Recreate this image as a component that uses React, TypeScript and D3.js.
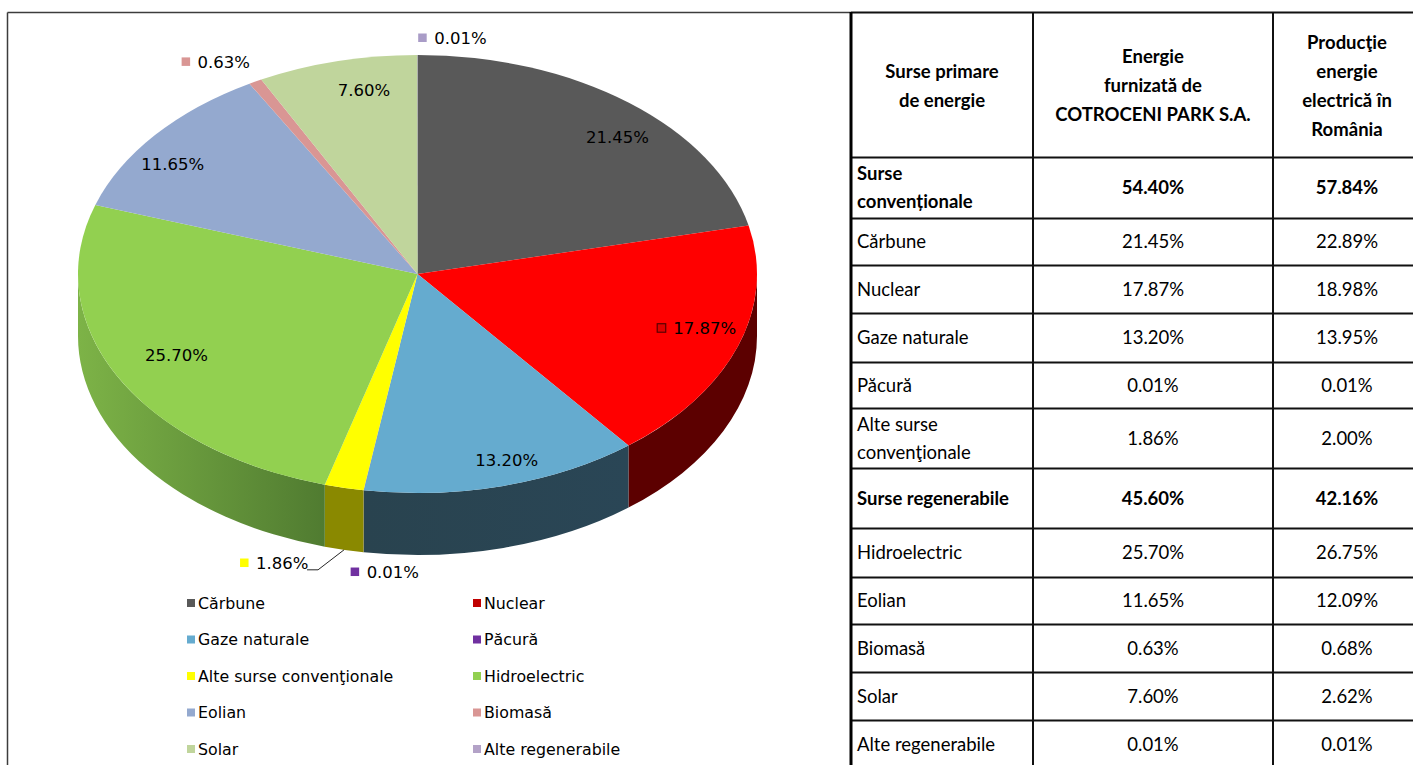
import React from 'react';
import * as d3 from 'd3';

// ---------- data ----------
const categories = [
  'Cărbune', 'Nuclear', 'Gaze naturale', 'Păcură', 'Alte surse convenţionale',
  'Hidroelectric', 'Eolian', 'Biomasă', 'Solar', 'Alte regenerabile',
];
const cotroceniShare = [21.45, 17.87, 13.2, 0.01, 1.86, 25.7, 11.65, 0.63, 7.6, 0.01];
const romaniaShare = [22.89, 18.98, 13.95, 0.01, 2.0, 26.75, 12.09, 0.68, 2.62, 0.01];
const conventionalTotals = [54.4, 57.84];
const renewableTotals = [45.6, 42.16];
const tableHeaders = [
  ['Surse primare', 'de energie'],
  ['Energie', 'furnizată de', 'COTROCENI PARK S.A.'],
  ['Producţie', 'energie', 'electrică în', 'România'],
];
const tableRowLabels = [
  ['Surse', 'convenționale'], ['Cărbune'], ['Nuclear'], ['Gaze naturale'], ['Păcură'],
  ['Alte surse', 'convenţionale'], ['Surse regenerabile'], ['Hidroelectric'], ['Eolian'],
  ['Biomasă'], ['Solar'], ['Alte regenerabile'],
];

// ---------- styles ----------
const topColors = ['#595959', '#FF0000', '#65ABCF', '#7030A0', '#FFFF00', '#92D050', '#94A9CF', '#D99694', '#C0D59C', '#A99CC7'];
const sideColors = ['#3a3a3a', '#5c0000', 'url(#sideBlue)', '#4a2070', '#8a8900', 'url(#sideGreen)', '#5f6f8a', '#8f6260', '#7f8d66', '#716888'];
const legendColors = ['#595959', '#C00000', '#65ABCF', '#7030A0', '#FFFF00', '#92D050', '#94A9CF', '#D99694', '#C0D59C', '#B3A2C7'];
// label placement offsets (layout only), relative to the slice anchor
const labelLayout = [
  { f: 0.8, dx: 30.5, dy: 0, key: false },
  { f: 0.8, dx: 31, dy: -4, key: true },
  { f: 0.8, dx: 20.6, dy: 16.5, key: false },
  { f: 1, side: true, dx: 29.2, dy: 19.8, key: true },
  { f: 1, side: true, dx: -61.8, dy: 13.2, leader: true, key: true },
  { f: 0.8, dx: -1, dy: -1, key: false },
  { f: 0.8, dx: -34.8, dy: 1, key: false },
  { f: 1, dx: -31.5, dy: -19.7, key: true },
  { f: 0.8, dx: 10.8, dy: -13.9, key: false },
  { f: 1, dx: 43, dy: -17, key: true },
];

const W = 1413;
const H = 765;
const cx = 417.5, cy = 274, rx = 339.5, ry = 219, depth = 62;
const LABEL_FS = 16.5;
const labelFont = 'DejaVu Sans, Verdana, sans-serif';
const tableFont = 'Lato, Calibri, sans-serif';
const TABLE_FS = 18.5;

const charW = (s: string) =>
  s.split('').reduce((a, c) => a + (c === '.' ? 0.318 : c === '%' ? 0.95 : 0.636), 0) * LABEL_FS;

const pt = (a: number, f = 1, dy = 0): [number, number] => [
  cx + rx * f * Math.sin(a),
  cy - ry * f * Math.cos(a) + dy,
];

function sidePath(s: number, e: number): string | null {
  const a0 = Math.max(s, Math.PI / 2);
  const a1 = Math.min(e, (3 * Math.PI) / 2);
  if (a1 <= a0) return null;
  const large = a1 - a0 > Math.PI ? 1 : 0;
  const p0 = pt(a0), p1 = pt(a1), p2 = pt(a1, 1, depth), p3 = pt(a0, 1, depth);
  return `M${p0[0]},${p0[1]}A${rx},${ry} 0 ${large} 1 ${p1[0]},${p1[1]}L${p2[0]},${p2[1]}A${rx},${ry} 0 ${large} 0 ${p3[0]},${p3[1]}Z`;
}

const fmt = (v: number) => v.toFixed(2) + '%';

export default function App() {
  React.useEffect(() => {
    document.body.style.margin = '0';
  }, []);

  const pie = d3.pie<number>().sort(null).value((d) => d).startAngle(0).endAngle(2 * Math.PI);
  const arcs = pie(cotroceniShare);
  const arcGen = d3.arc<d3.PieArcDatum<number>>().innerRadius(0).outerRadius(rx);

  // table layout
  const colX = [851, 1033, 1273, 1421];
  const rowY = [12, 157, 218, 265, 313, 362, 408, 468, 528, 577, 624, 672, 720, 768];
  const tableRows = tableRowLabels.map((lab, i) => {
    if (i === 0) return { lab, bold: true, v: conventionalTotals };
    if (i === 6) return { lab, bold: true, v: renewableTotals };
    const k = i < 6 ? i - 1 : i - 2;
    return { lab, bold: false, v: [cotroceniShare[k], romaniaShare[k]] };
  });

  // legend layout
  const legendColX = [187, 473];
  const legendY = d3.scaleLinear().domain([0, 4]).range([603, 749]);

  return (
    <svg
      width={W}
      height={H}
      viewBox={`0 0 ${W} ${H}`}
      style={{ position: 'absolute', left: 0, top: 0, display: 'block', background: '#fff' }}
    >
      <defs>
        <linearGradient id="sideGreen" gradientUnits="userSpaceOnUse" x1={78} y1={0} x2={330} y2={0}>
          <stop offset="0" stopColor="#7DB347" />
          <stop offset="1" stopColor="#4F7A30" />
        </linearGradient>
        <linearGradient id="sideBlue" gradientUnits="userSpaceOnUse" x1={364} y1={0} x2={630} y2={0}>
          <stop offset="0" stopColor="#29434F" />
          <stop offset="1" stopColor="#2A4656" />
        </linearGradient>
      </defs>
      <rect x={0} y={0} width={W} height={H} fill="#fff" />

      {/* chart frame */}
      <line x1={7.5} y1={12.5} x2={851} y2={12.5} stroke="#3c3c3c" strokeWidth={1.5} />
      <line x1={7.5} y1={12.5} x2={7.5} y2={H} stroke="#3c3c3c" strokeWidth={1.5} />

      {/* pie side walls */}
      <g>
        {arcs.map((a, i) => {
          const d = sidePath(a.startAngle, a.endAngle);
          return d ? <path key={i} d={d} fill={sideColors[i]} /> : null;
        })}
      </g>
      {/* pie top */}
      <g transform={`translate(${cx},${cy}) scale(1,${ry / rx})`}>
        {arcs.map((a, i) => (
          <path key={i} d={arcGen(a) || ''} fill={topColors[i]} />
        ))}
      </g>

      {/* data labels */}
      <g fontFamily={labelFont} fontSize={LABEL_FS} fill="#000">
        {arcs.map((a, i) => {
          const L = labelLayout[i];
          const mid = (a.startAngle + a.endAngle) / 2;
          const anc = pt(mid, L.f, L.side ? depth : 0);
          const tx = anc[0] + L.dx;
          const ty = anc[1] + L.dy;
          const txt = fmt(cotroceniShare[i]);
          const w = charW(txt);
          const keyX = tx - w / 2 - 16;
          const elbow: [number, number] = [anc[0] - 26, anc[1] + 20];
          return (
            <g key={i}>
              {L.leader && (
                <polyline
                  points={`${anc[0]},${anc[1]} ${elbow[0]},${elbow[1]} ${elbow[0] - 11},${elbow[1]}`}
                  fill="none"
                  stroke="#262626"
                  strokeWidth={1}
                />
              )}
              {L.key && (
                <rect
                  x={keyX}
                  y={ty - 4.5}
                  width={8.5}
                  height={8.5}
                  fill={i === 1 ? '#E00000' : topColors[i]}
                  stroke={i === 1 ? '#5a0000' : 'none'}
                  strokeWidth={i === 1 ? 1.2 : 0}
                />
              )}
              <text x={tx} y={ty} dy="0.36em" textAnchor="middle">
                {txt}
              </text>
            </g>
          );
        })}
      </g>

      {/* legend */}
      <g fontFamily={labelFont} fontSize={15.8} fill="#000">
        {categories.map((c, i) => {
          const col = i % 2;
          const row = Math.floor(i / 2);
          const y = legendY(row);
          return (
            <g key={c}>
              <rect x={legendColX[col]} y={y - 4} width={8} height={8} fill={legendColors[i]} />
              <text x={legendColX[col] + 11} y={y} dy="0.36em">
                {c}
              </text>
            </g>
          );
        })}
      </g>

      {/* table */}
      <g fontFamily={tableFont} fontSize={TABLE_FS} fill="#000">
        {tableHeaders.map((lines, c) => {
          const xc = (colX[c] + colX[c + 1]) / 2;
          const yc = 85.5;
          return lines.map((t, j) => (
            <text
              key={`h${c}-${j}`}
              x={xc}
              y={yc + (j - (lines.length - 1) / 2) * 29}
              dy="0.36em"
              textAnchor="middle"
              fontWeight="bold"
            >
              {t}
            </text>
          ));
        })}
        {tableRows.map((r, i) => {
          const y0 = rowY[i + 1];
          const y1 = rowY[i + 2];
          const yc = (y0 + y1) / 2;
          return (
            <g key={`r${i}`} fontWeight={r.bold ? 'bold' : 'normal'}>
              {r.lab.map((t, j) => (
                <text key={j} x={857} y={yc + (j - (r.lab.length - 1) / 2) * 28} dy="0.36em">
                  {t}
                </text>
              ))}
              {r.v.map((v, k) => (
                <text
                  key={`v${k}`}
                  x={(colX[k + 1] + colX[k + 2]) / 2}
                  y={yc}
                  dy="0.36em"
                  textAnchor="middle"
                >
                  {fmt(v)}
                </text>
              ))}
            </g>
          );
        })}
        {/* grid */}
        {rowY.map((y, i) => (
          <line key={`hl${i}`} x1={colX[0]} x2={W} y1={y + 0.5} y2={y + 0.5} stroke="#111" strokeWidth={2} />
        ))}
        <line x1={colX[0]} x2={colX[0]} y1={rowY[0]} y2={H} stroke="#000" strokeWidth={3} />
        {colX.slice(1).map((x, i) => (
          <line key={`vl${i}`} x1={x} x2={x} y1={rowY[0]} y2={H} stroke="#111" strokeWidth={2} />
        ))}
      </g>
    </svg>
  );
}
